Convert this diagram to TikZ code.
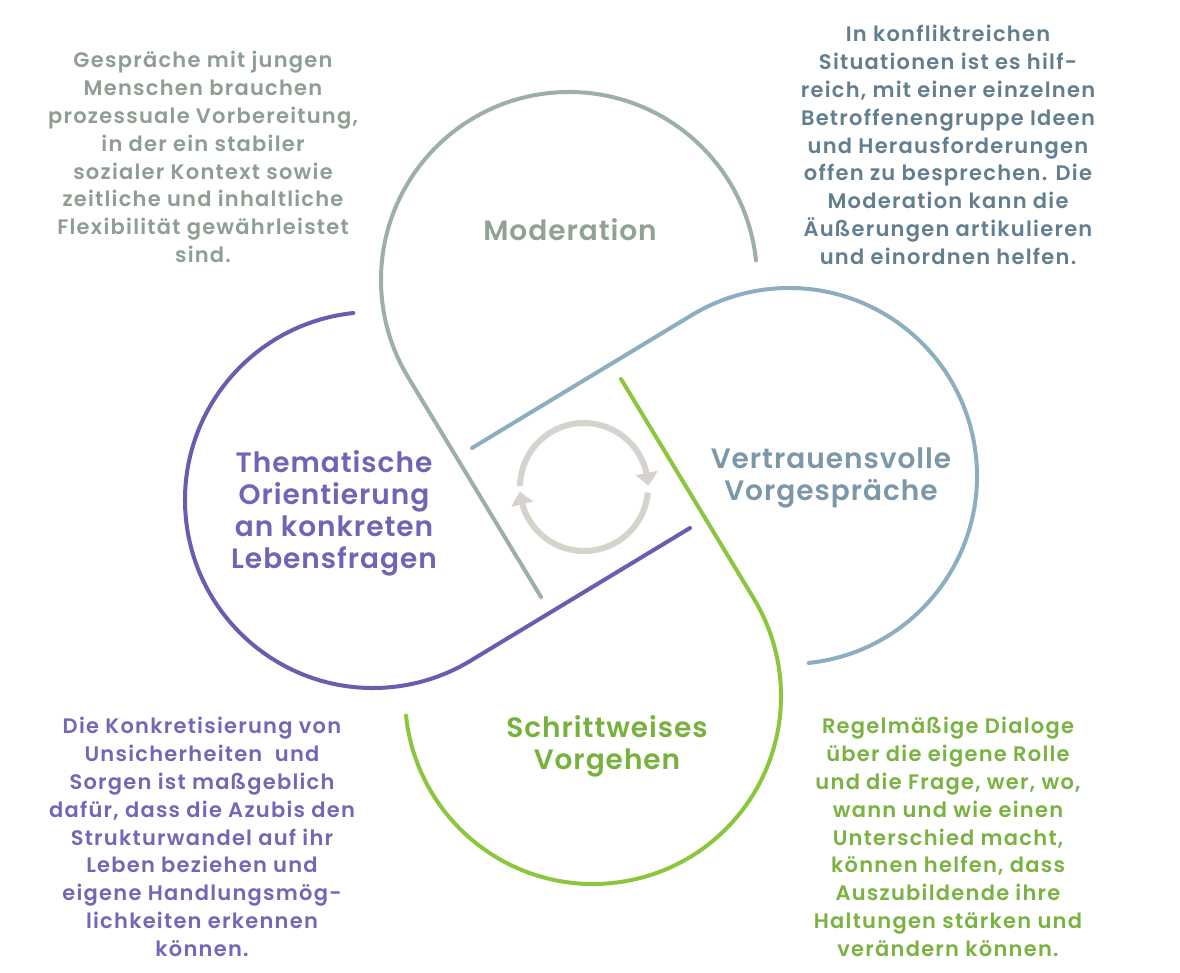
\documentclass[tikz,border=0pt]{standalone}
\usepackage{fontspec}
\setmainfont{Poppins}[UprightFont=*-SemiBold,BoldFont=*-Bold]
\newfontfamily\bodyfont{Poppins}[UprightFont=*-SemiBold,LetterSpace=6]
\newfontfamily\titlefont{Poppins}[UprightFont=*-SemiBold,LetterSpace=3.5]
\usetikzlibrary{arrows.meta,bending}
\definecolor{modline}{HTML}{9DB0A5}
\definecolor{modtitle}{HTML}{8FA296}
\definecolor{modtext}{HTML}{8E9E93}
\definecolor{vertline}{HTML}{8BAEC0}
\definecolor{verttitle}{HTML}{7C97A8}
\definecolor{verttext}{HTML}{637F8F}
\definecolor{schrline}{HTML}{8CC63F}
\definecolor{schrtitle}{HTML}{78B13E}
\definecolor{schrtext}{HTML}{7BB342}
\definecolor{themline}{HTML}{6C5BAF}
\definecolor{themtitle}{HTML}{7064B4}
\definecolor{themtext}{HTML}{7468B6}
\definecolor{cyclecol}{HTML}{D6D2CC}
\tikzset{
  petalline/.style={line width=4pt,line cap=round},
  titletext/.style={align=center,font=\titlefont\fontsize{28}{32}\selectfont,inner sep=0pt},
  bodytext/.style={align=center,font=\bodyfont\fontsize{21}{27.8}\selectfont,inner sep=0pt},
  cyclearrow/.style={draw=cyclecol,line width=6pt,-{Triangle[width=22pt,length=13pt,bend]}},
}
\newcommand\drawpetal[2]{%
  \begin{scope}[shift={(581,-488)},rotate=#1]
    \draw[petalline,draw=#2] (-12,208) ++(6:188) arc[start angle=6,end angle=211.2,radius=188] -- (-40,-109);
  \end{scope}}
\begin{document}
\begin{tikzpicture}[x=1pt,y=1pt]
\useasboundingbox (0,0) rectangle (1180,-973);
\fill[white] (0,0) rectangle (1180,-973);
% petals
\drawpetal{0}{modline}
\drawpetal{-90}{vertline}
\drawpetal{180}{schrline}
\drawpetal{90}{themline}
% central cycle
\coordinate (cyc) at (584,-487);
\draw[cyclearrow] (cyc) ++(179:64) arc[start angle=179,end angle=1,radius=64];
\draw[cyclearrow] (cyc) ++(-5:64) arc[start angle=-5,end angle=-176,radius=64];
% titles
\node[titletext,text=modtitle] (moder) at (570,-230) {Moderation};
\node[titletext,text=themtitle] (them) at (334,-513) {Thematische\\Orientierung\\an konkreten\\Lebensfragen};
\node[titletext,text=verttitle] (vert) at (831,-478) {Vertrauensvolle\\Vorgespräche};
\node[titletext,text=schrtitle] (schr) at (607,-746) {Schrittweises\\Vorgehen};
% body texts
\node[bodytext,text=modtext] (t1) at (203,-157) {Gespräche mit jungen\\Menschen brauchen\\prozessuale Vorbereitung,\\in der ein stabiler\\sozialer Kontext sowie\\zeitliche und inhaltliche\\Flexibilität gewährleistet\\sind.};
\node[bodytext,text=verttext] (t2) at (948,-145) {In konfliktreichen\\Situationen ist es hilf-\\reich, mit einer einzelnen\\Betroffenengruppe Ideen\\und Herausforderungen\\offen zu besprechen. Die\\Moderation kann die\\Äußerungen artikulieren\\und einordnen helfen.};
\node[bodytext,text=themtext] (t3) at (202,-837) {Die Konkretisierung von\\Unsicherheiten\ \ und\\Sorgen ist maßgeblich\\dafür, dass die Azubis den\\Strukturwandel auf ihr\\Leben beziehen und\\eigene Handlungsmög-\\lichkeiten erkennen\\können.};
\node[bodytext,text=schrtext] (t4) at (948,-837) {Regelmäßige Dialoge\\über die eigene Rolle\\und die Frage, wer, wo,\\wann und wie einen\\Unterschied macht,\\können helfen, dass\\Auszubildende ihre\\Haltungen stärken und\\verändern können.};
\end{tikzpicture}
\end{document}
